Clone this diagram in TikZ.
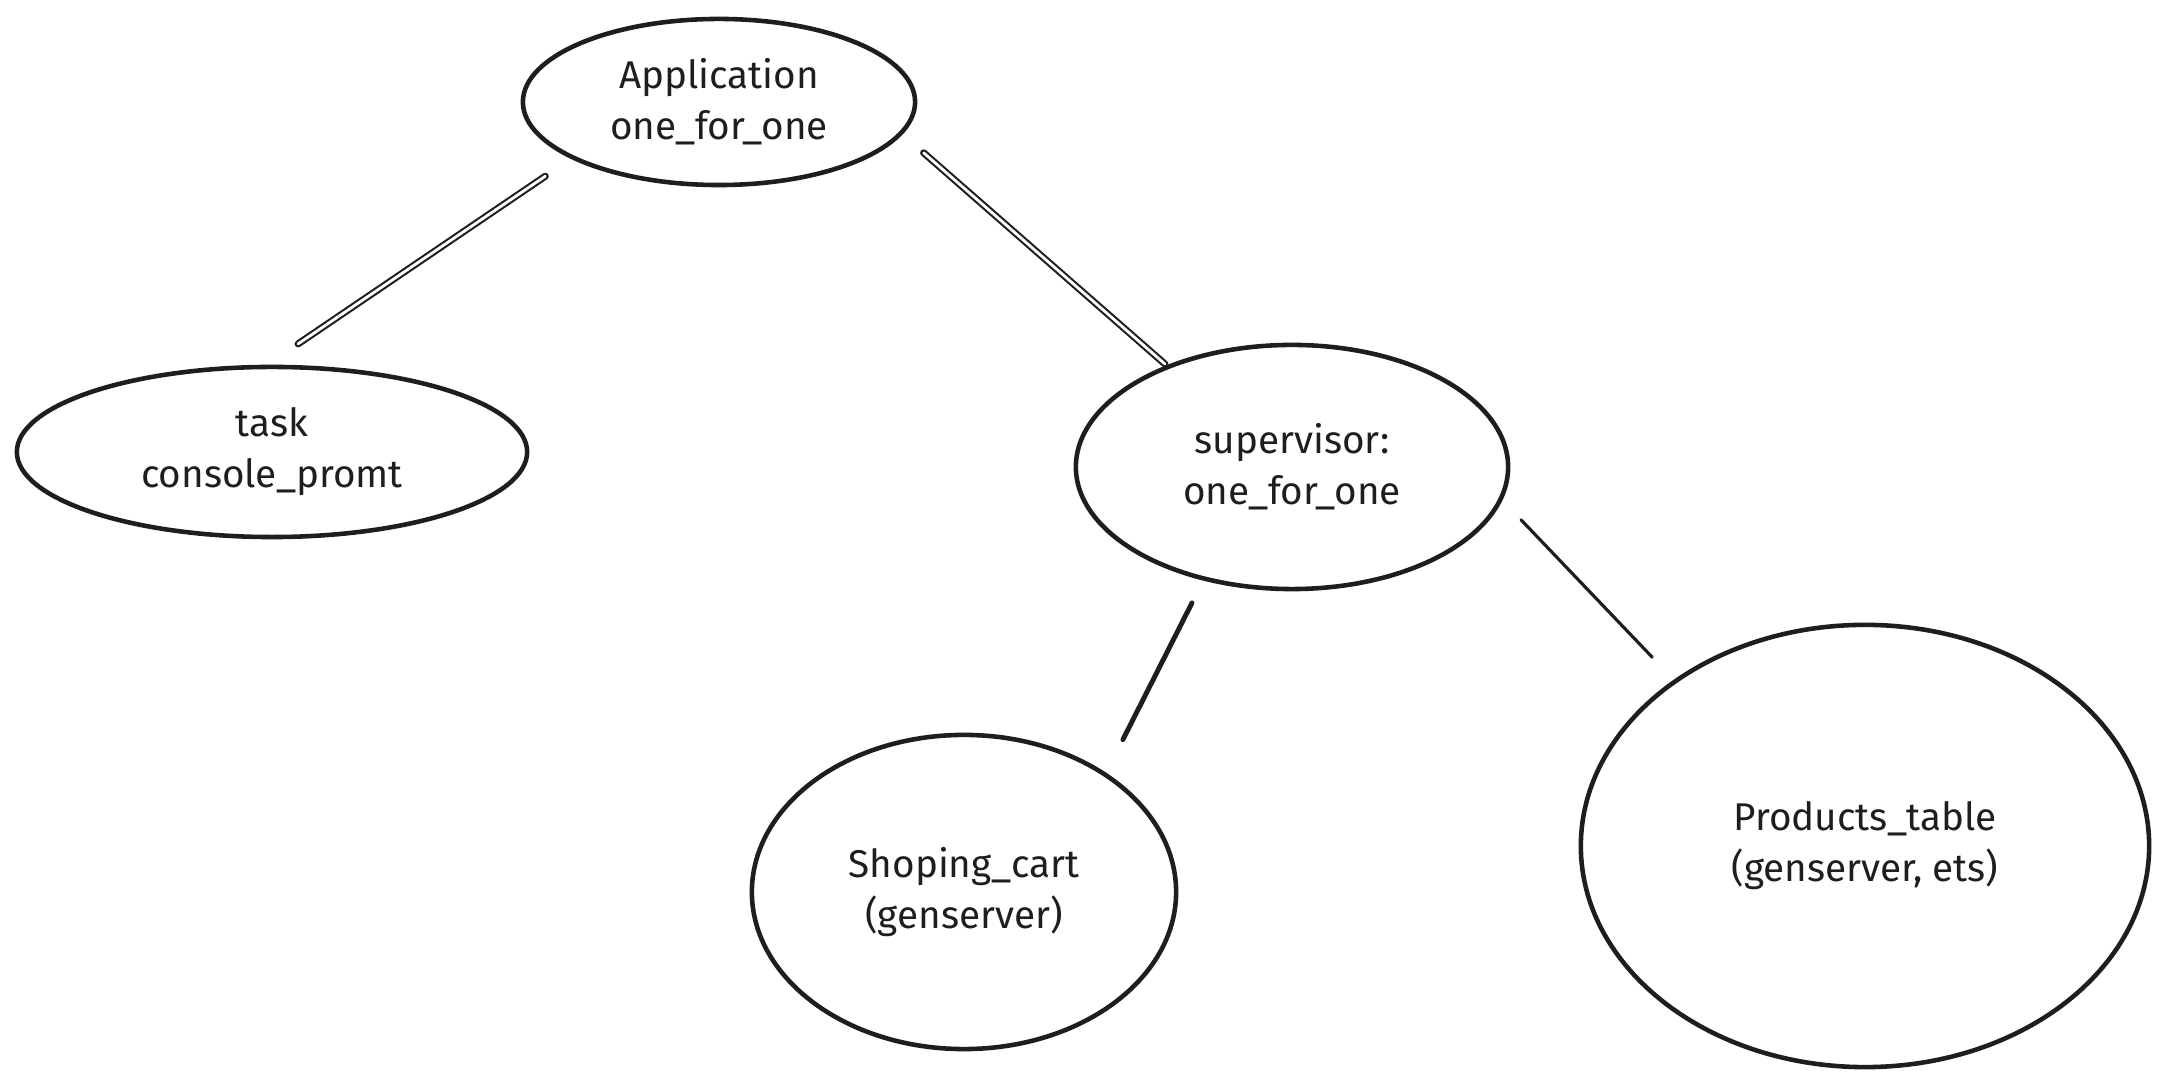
\documentclass[tikz,border=0pt]{standalone}
\usepackage{fontspec}
\setmainfont{Fira Sans}
\usepackage{xcolor}
\usetikzlibrary{shapes.geometric,positioning}
\definecolor{ink}{HTML}{1E1E1E}

\begin{document}
\begin{tikzpicture}[x=0.01cm,y=-0.01cm,ink,
    proc/.style={ellipse,draw=ink,line width=1.3pt,inner sep=0pt,align=center,
      font=\fontsize{11}{14.5}\selectfont},
    link/.style={line width=0.9pt,line cap=round},
    twin/.style={line width=0.6pt,double=white,double distance=0.8pt,line cap=round}]

    \useasboundingbox (0,0) rectangle (2165,1086);

    % The tree
    \node [proc,minimum width=3.92cm,minimum height=1.66cm] at (719,102) (app) {Application\\one\_for\_one};
    \node [proc,minimum width=5.10cm,minimum height=1.70cm] at (272,452) (task) {task\\console\_promt};
    \node [proc,minimum width=4.32cm,minimum height=2.44cm] at (1292,467) (sup) {supervisor:\\one\_for\_one};
    \node [proc,minimum width=4.24cm,minimum height=3.14cm] at (964,892) (cart) {Shoping\_cart\\(genserver)};
    \node [proc,minimum width=5.68cm,minimum height=4.42cm] at (1865,846) (prod) {Products\_table\\(genserver, ets)};

    % Tree branches
    \path[-]
    (app.201) edge[twin,shorten <=0.31cm,shorten >=0.37cm] (task.93)
    (app.-10) edge[twin,shorten <=0.28cm,shorten >=0.02cm] (sup.141);

    \path[-]
    (sup.232) edge[link,line width=1.4pt,shorten <=0.25cm,shorten >=0.37cm] (cart.40)
    (sup.-9) edge[link,shorten <=0.27cm,shorten >=0.31cm] (prod.139);
\end{tikzpicture}
\end{document}
